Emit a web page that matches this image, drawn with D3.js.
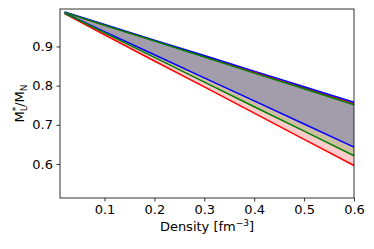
<!DOCTYPE html>
<html><head><meta charset="utf-8">
<script src="https://cdn.jsdelivr.net/npm/d3@7"></script>
<style>body{margin:0;background:#fff}svg{display:block}text{font-family:"DejaVu Sans",sans-serif}</style>
</head><body><svg id="c" width="374" height="249"></svg>
<script>
const density = [0.02, 0.1, 0.2, 0.3, 0.4, 0.5, 0.6];
const blueUpper  = [0.988, 0.956, 0.916, 0.877, 0.837, 0.797, 0.7575];
const blueLower  = [0.985, 0.938, 0.879, 0.820, 0.761, 0.702, 0.643];
const redUpper   = [0.987, 0.955, 0.915, 0.875, 0.834, 0.794, 0.754];
const redLower   = [0.984, 0.930, 0.863, 0.797, 0.730, 0.663, 0.596];
const greenUpper = [0.987, 0.954, 0.914, 0.873, 0.832, 0.792, 0.751];
const greenLower = [0.985, 0.935, 0.872, 0.809, 0.746, 0.684, 0.621];
const xTicks = [0.1, 0.2, 0.3, 0.4, 0.5, 0.6];
const yTicks = [0.6, 0.7, 0.8, 0.9];

const svg = d3.select("#c");
const L = 60, R = 354, T = 9, B = 198;
const x = d3.scaleLinear().domain([0.0108, 0.6]).range([L, R]);
const y = d3.scaleLinear().domain([0.5131, 0.9957]).range([B, T]);

const bands = [
  {up: redUpper, lo: redLower, c: "#ff0000"},
  {up: blueUpper, lo: blueLower, c: "#0000ff"},
  {up: greenUpper, lo: greenLower, c: "#008000"}
];
const area = d3.area().x((d,i)=>x(density[i])).y0(d=>y(d[1])).y1(d=>y(d[0]));
const line = d3.line().x((d,i)=>x(density[i])).y(d=>y(d));
const g = svg.append("g");
bands.forEach(b=>{
  g.append("path").attr("d", area(b.up.map((v,i)=>[v,b.lo[i]])))
    .attr("fill", b.c).attr("fill-opacity", 0.2);
});
bands.forEach(b=>{
  [b.up, b.lo].forEach(s=>g.append("path").attr("d", line(s))
    .attr("fill","none").attr("stroke", b.c).attr("stroke-width",1.5));
});

const xa = svg.append("g").attr("transform",`translate(0,${B})`)
  .call(d3.axisBottom(x).tickValues(xTicks).tickFormat(d3.format(".1f")).tickSizeOuter(0).tickSize(3.5).tickPadding(3.5));
const ya = svg.append("g").attr("transform",`translate(${L},0)`)
  .call(d3.axisLeft(y).tickValues(yTicks).tickFormat(d3.format(".1f")).tickSizeOuter(0).tickSize(3.5).tickPadding(3.5));
[xa, ya].forEach(a=>{
  a.select(".domain").remove();
  a.selectAll("line").attr("stroke","#000").attr("stroke-width",0.8);
  a.selectAll("text").attr("font-size",13).attr("fill","#000").attr("font-family","DejaVu Sans");
});
svg.append("rect").attr("x",L).attr("y",T).attr("width",R-L).attr("height",B-T)
  .attr("fill","none").attr("stroke","#000").attr("stroke-width",0.8);

const xl = svg.append("text").attr("x",(L+R)/2).attr("y",231).attr("text-anchor","middle").attr("font-size",13);
xl.append("tspan").text("Density [fm");
xl.append("tspan").attr("dy",-5).attr("font-size",9).text("\u22123");
xl.append("tspan").attr("dy",5).text("]");

const yl = svg.append("text").attr("transform",`translate(24,${(T+B)/2}) rotate(-90)`).attr("text-anchor","middle").attr("font-size",13);
yl.append("tspan").text("M");
yl.append("tspan").attr("dy",3).attr("font-size",9).text("L");
yl.append("tspan").attr("dy",-8).attr("dx",-5).attr("font-size",9).text("*");
yl.append("tspan").attr("dy",5).text("/M");
yl.append("tspan").attr("dy",3).attr("font-size",9).text("N");
</script></body></html>
